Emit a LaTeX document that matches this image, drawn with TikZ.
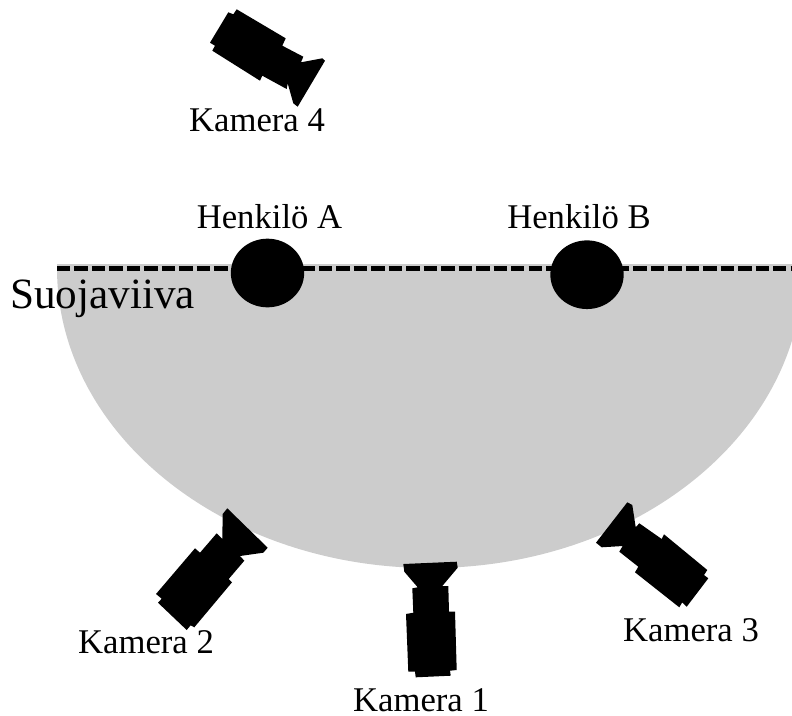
\documentclass[tikz,border=0pt]{standalone}
\usepackage{fontspec}
\setmainfont{Liberation Serif}
\usetikzlibrary{shapes.geometric}
\definecolor{zone_gray}{RGB}{204,204,204}
\begin{document}
\begin{tikzpicture}[x=0.75pt,y=-0.75pt]
        \tikzstyle{label_style} = [anchor=base,inner sep=0pt,font=\fontsize{26}{30}\selectfont]
        \tikzstyle{person_style} = [ellipse,fill=black,inner sep=0pt,minimum width=55pt,minimum height=51.5pt]
        \tikzstyle{camera_style} = [fill=black]
        \useasboundingbox (0,0) rectangle (792,715);
        % protected zone
        \fill[zone_gray] (57,264) -- (57,268) arc[start angle=180,end angle=0,x radius=373,y radius=300] -- (803,264) -- cycle;
        \coordinate (line_start) at (57,268);
        \coordinate (line_end) at (792,268);
        \draw[black,line width=3.75pt,dash pattern=on 10pt off 3.1pt] (line_start) -- (line_end);
        \node[person_style] (person_a) at (267.5,273) {};
        \node[person_style] (person_b) at (587,274.7) {};
        % cameras
        \path[camera_style] (403.3,564) -- (456.7,561.7) -- (457.7,567.7) -- (442.3,586) -- (448.3,586) -- (449,611.7) -- (455,611.7) -- (456.7,670) -- (450,670.7) -- (450.7,675.7) -- (415.7,677.3) -- (415,671.7) -- (408.3,671.7) -- (406,614) -- (413.3,612.7) -- (412.3,588.3) -- (417.7,587.3) -- (404.3,571.7) -- cycle;
        \path[camera_style] (227.3,508.3) -- (267.7,547.7) -- (263.3,552.7) -- (240,556) -- (244.3,560.7) -- (228.7,579) -- (232,582.3) -- (194.3,627.3) -- (190.7,625.3) -- (186.7,630) -- (158,602.7) -- (161.7,598.7) -- (156,594) -- (195,548.3) -- (200,552.7) -- (216.7,533.3) -- (222.3,539) -- (222.7,514) -- cycle;
        \path[camera_style] (627.3,502.3) -- (632.3,505) -- (635.7,527.3) -- (639.3,523.3) -- (661.7,539) -- (664,534.3) -- (707.3,570) -- (704,575) -- (708.3,578.3) -- (686.7,606.7) -- (682.3,602.3) -- (679.3,607.3) -- (635,572.3) -- (638.3,566.7) -- (619.3,551.7) -- (622.7,546) -- (601.7,547.3) -- (596,542.7) -- cycle;
        \path[camera_style] (236.7,9.3) -- (285.7,38.3) -- (282.3,45.7) -- (303.3,56.7) -- (301,62.3) -- (322.3,58.3) -- (325,60.7) -- (297.7,106.7) -- (293.3,103.3) -- (287.7,83.3) -- (286.7,89) -- (262.3,75.7) -- (260,80.7) -- (212.3,50.7) -- (215,45.7) -- (210,42.7) -- (228.3,12.3) -- (233.3,14.3) -- cycle;
        % labels
        \node[label_style] (label_cam4) at (257,131.5) {Kamera 4};
        \node[label_style] (label_cam1) at (421,711.5) {Kamera 1};
        \node[label_style] (label_cam2) at (146,653) {Kamera 2};
        \node[label_style] (label_cam3) at (691,641.5) {Kamera 3};
        \node[label_style] (label_a) at (269.5,228.5) {Henkilö A};
        \node[label_style] (label_b) at (579,228.5) {Henkilö B};
        \node[label_style,font=\fontsize{32.4}{36}\selectfont] (label_line) at (102.5,308) {Suojaviiva};
      \end{tikzpicture}
\end{document}
